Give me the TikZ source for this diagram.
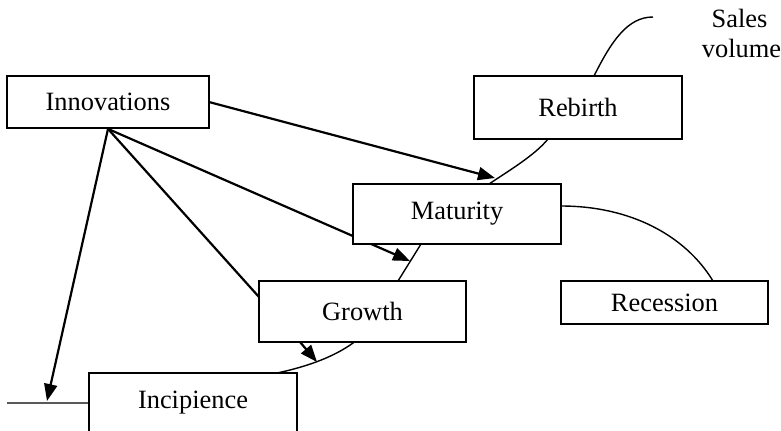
\documentclass[tikz,border=0pt]{standalone}
\usepackage{fontspec}
\setmainfont{Liberation Serif}
\usetikzlibrary{arrows.meta,calc,backgrounds}
\begin{document}
\begin{tikzpicture}[x=1bp,y=-1bp,
  stagebox/.style={draw,line width=1.8bp,fill=white,inner sep=0pt,
    font=\fontsize{26.5}{30}\selectfont},
  arr/.style={line width=2.2bp,-{Triangle[length=17bp,width=13bp]}},
  plain/.style={line width=2.2bp},
  salescurve/.style={line width=1.4bp}]
\useasboundingbox (0,0) rectangle (781,430);
\clip (0,0) rectangle (781,430);
% curve points
\coordinate (c0) at (7,403);
\coordinate (c1) at (89,403);
\coordinate (c2) at (277,373);
\coordinate (c3) at (353,343);
\coordinate (c4) at (398,281);
\coordinate (c5) at (421,244);
\coordinate (c6) at (489,184);
\coordinate (c7) at (548,139);
\coordinate (c8) at (594,76);
\coordinate (c9) at (653,17);
\coordinate (r0) at (561,206);
\coordinate (r1) at (713,281);
% arrow ends
\coordinate (ti) at (47,401);
\coordinate (tg) at (259,297);
\coordinate (tm) at (410,261);
\coordinate (tr) at (495,178);
\coordinate (gs) at (300,342);
\coordinate (gi) at (317,362);
\coordinate (ie) at (209,102);
% sales curve
\draw[salescurve] (c0) -- (c1) .. controls (160,403) and (220,385) .. (c2)
  .. controls (310,366) and (335,356) .. (c3)
  .. controls (370,330) and (385,300) .. (c4)
  -- (c5) .. controls (440,215) and (470,198) .. (c6)
  .. controls (510,170) and (535,155) .. (c7)
  .. controls (565,120) and (580,100) .. (c8)
  .. controls (612,40) and (628,17) .. (c9);
\draw[salescurve] (r0) .. controls (630,206) and (685,235) .. (r1);
% boxes
\node[stagebox,minimum width=202bp,minimum height=52bp] (inn) at (108,102) {Innovations};
\node[stagebox,minimum width=208bp,minimum height=63bp] (reb) at (578,107.5) {Rebirth};
\node[stagebox,minimum width=208bp,minimum height=60bp] (mat) at (457,214) {Maturity};
\node[stagebox,minimum width=207bp,minimum height=61bp] (gro) at (362.5,311.5) {Growth};
\node[stagebox,minimum width=207bp,minimum height=43bp] (rec) at (664.5,302.5) {Recession};
\node[stagebox,minimum width=208bp,minimum height=60bp] (inc) at (193,403) {Incipience};
% arrows (behind the boxes)
\begin{scope}[on background layer]
\draw[arr] (inn.south) -- (ti);
\draw[plain] (inn.south) -- (tg);
\draw[arr] (inn.south) -- (tm);
\draw[arr] (ie) -- (tr);
\draw[arr] (gs) -- (gi);
\end{scope}
% label
\node[font=\fontsize{26.5}{30}\selectfont,anchor=base,inner sep=0pt] (sales) at (739.5,27) {Sales};
\node[font=\fontsize{26.5}{30}\selectfont,anchor=base,inner sep=0pt] (vol) at (741.5,57) {volume};
\end{tikzpicture}
\end{document}
